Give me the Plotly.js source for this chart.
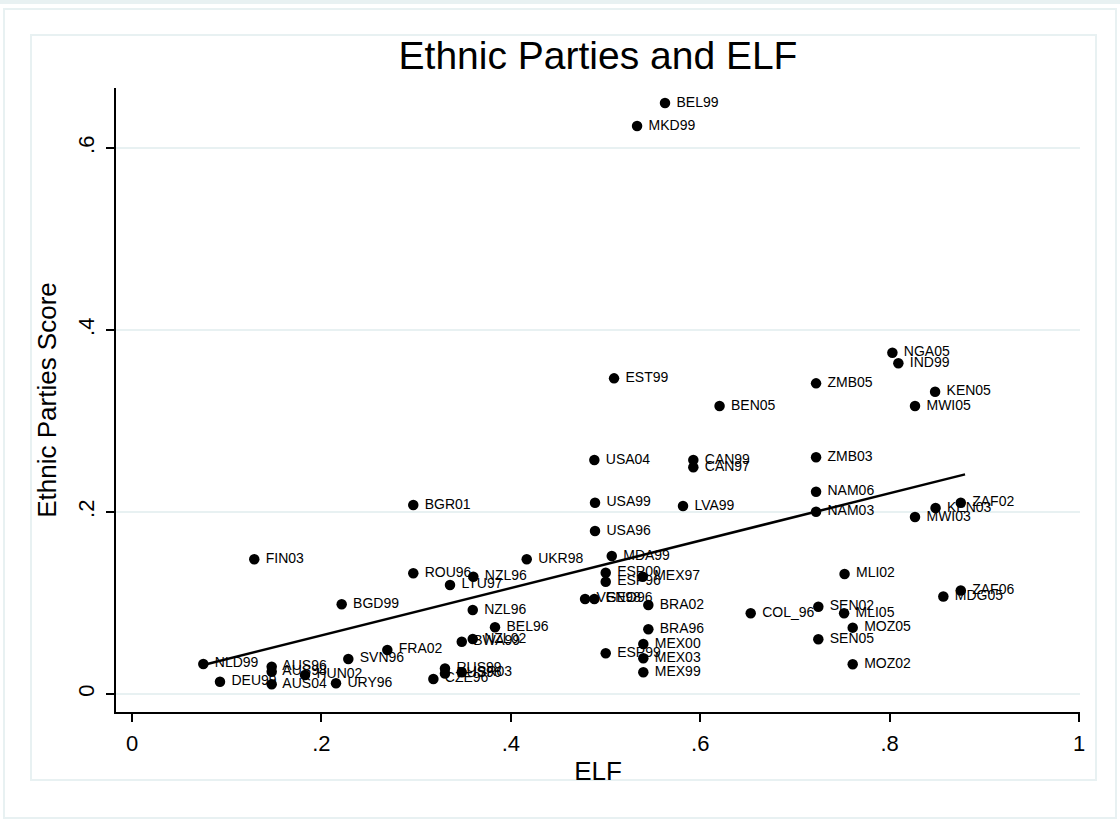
<!DOCTYPE html>
<html>
<head>
<meta charset="utf-8">
<script src="https://cdn.plot.ly/plotly-3.0.1.min.js"></script>
<style>html,body{margin:0;padding:0;background:#fff;}#chart{width:1120px;height:823px;}</style>
</head>
<body>
<div id="chart"></div>
<script>
var labels = ["BEL99","MKD99","NGA05","IND99","ZMB05","KEN05","MWI05","BEN05","EST99","USA04",
  "CAN99","CAN97","ZMB03","USA99","LVA99","NAM06","NAM03","KEN03","ZAF02","MWI03",
  "BGR01","USA96","FIN03","UKR98","MDA99","ROU96","NZL96","LTU97","ESP00","ESP96",
  "MEX97","MLI02","ZAF06","MDG05","VEN98","GEO96","BRA02","BGD99","NZL96","COL_96",
  "SEN02","MLI05","MOZ05","BRA96","BEL96","SEN05","NZL02","BWA99","MEX00","FRA02",
  "ESP99","MEX03","SVN96","MOZ02","NLD99","AUS96","AUS98","HUN02","RUS99","RUS96",
  "ISR03","MEX99","CZE96","DEU99","AUS04","URY96"];
var elf = [0.5628,0.5333,0.8029,0.8092,0.7223,0.8480,0.8268,0.6204,0.5090,0.4882,
  0.5927,0.5927,0.7223,0.4889,0.5818,0.7223,0.7223,0.8485,0.8751,0.8268,
  0.2970,0.4889,0.1291,0.4168,0.5066,0.2970,0.3604,0.3358,0.5002,0.5002,
  0.5393,0.7524,0.8751,0.8567,0.4784,0.4882,0.5452,0.2214,0.3598,0.6533,
  0.7247,0.7519,0.7610,0.5452,0.3833,0.7247,0.3598,0.3482,0.5399,0.2696,
  0.5002,0.5399,0.2284,0.7610,0.0753,0.1475,0.1475,0.1827,0.3305,0.3305,
  0.3482,0.5399,0.3182,0.0929,0.1475,0.2154];
var score = [0.6495,0.6242,0.3750,0.3634,0.3414,0.3322,0.3165,0.3165,0.3469,0.2571,
  0.2571,0.2491,0.2601,0.2102,0.2066,0.2223,0.2003,0.2044,0.2102,0.1945,
  0.2077,0.1791,0.1480,0.1480,0.1516,0.1326,0.1289,0.1198,0.1333,0.1234,
  0.1289,0.1319,0.1137,0.1071,0.1044,0.1044,0.0978,0.0986,0.0923,0.0887,
  0.0959,0.0887,0.0729,0.0711,0.0733,0.0601,0.0604,0.0575,0.0549,0.0484,
  0.0447,0.0392,0.0385,0.0326,0.0330,0.0300,0.0245,0.0209,0.0280,0.0225,
  0.0238,0.0238,0.0165,0.0135,0.0107,0.0118];
var fitX = [0.0753, 0.8796];
var fitY = [0.0319, 0.2414];
var xTickVals = [0, 0.2, 0.4, 0.6, 0.8, 1];
var xTickText = ["0", ".2", ".4", ".6", ".8", "1"];
var yTickVals = [0, 0.2, 0.4, 0.6];
var yTickText = ["0", ".2", ".4", ".6"];

var FONT = "Liberation Sans, Arial, Helvetica, sans-serif";
var frameColor = "#e8f1f2";

var traces = [
  {
    x: elf, y: score, text: labels.map(function(s){ return " " + s; }),
    type: "scatter", mode: "markers+text", textposition: "middle right",
    marker: {color: "#000", size: 10.5},
    textfont: {family: FONT, size: 14, color: "#000"},
    cliponaxis: false, hoverinfo: "none", showlegend: false
  },
  {
    x: fitX, y: fitY, type: "scatter", mode: "lines",
    line: {color: "#000", width: 2.5}, hoverinfo: "none", showlegend: false
  }
];

// plot area: left 116, right 1080, top 88, bottom 712
function px2paperX(X){ return (X - 116) / 964; }
function px2paperY(Y){ return (712 - Y) / 624; }

var layout = {
  width: 1120, height: 823,
  margin: {l: 116, r: 40, t: 88, b: 111, pad: 0},
  paper_bgcolor: "#fff", plot_bgcolor: "#fff",
  font: {family: FONT, color: "#000"},
  title: {text: "Ethnic Parties and ELF", font: {family: FONT, size: 39, color: "#000"},
          x: 0.5, xref: "paper", xanchor: "center", y: 1 - 55/823, yref: "container", yanchor: "middle"},
  xaxis: {
    range: [-0.0169, 1.001], tickmode: "array", tickvals: xTickVals, ticktext: xTickText,
    showline: true, linecolor: "#000", linewidth: 2, ticks: "outside", ticklen: 8, tickwidth: 2, tickcolor: "#000",
    showgrid: false, zeroline: false, tickfont: {family: FONT, size: 22}, ticklabelstandoff: 3,
    title: {text: "ELF", font: {family: FONT, size: 26}, standoff: 6}
  },
  yaxis: {
    range: [-0.0198, 0.666], tickmode: "array", tickvals: yTickVals, ticktext: yTickText,
    showline: true, linecolor: "#000", linewidth: 2, ticks: "outside", ticklen: 8, tickwidth: 2, tickcolor: "#000",
    showgrid: true, gridcolor: frameColor, gridwidth: 1.5, zeroline: false,
    tickangle: -90, tickfont: {family: FONT, size: 22}, ticklabelstandoff: 3,
    title: {text: "Ethnic Parties Score", font: {family: FONT, size: 26}, standoff: 10}
  },
  shapes: [
    {type: "rect", xref: "paper", yref: "paper", layer: "below",
     x0: px2paperX(-5), x1: px2paperX(1125), y0: px2paperY(4), y1: px2paperY(-5),
     fillcolor: frameColor, line: {width: 0}},
    {type: "rect", xref: "paper", yref: "paper", layer: "below",
     x0: px2paperX(4), x1: px2paperX(1116), y0: px2paperY(818), y1: px2paperY(9),
     line: {color: frameColor, width: 2}},
    {type: "rect", xref: "paper", yref: "paper", layer: "below",
     x0: px2paperX(31), x1: px2paperX(1096), y0: px2paperY(780), y1: px2paperY(35),
     line: {color: frameColor, width: 2}}
  ],
  hovermode: false
};

Plotly.newPlot("chart", traces, layout, {displayModeBar: false, staticPlot: true});
</script>
</body>
</html>
